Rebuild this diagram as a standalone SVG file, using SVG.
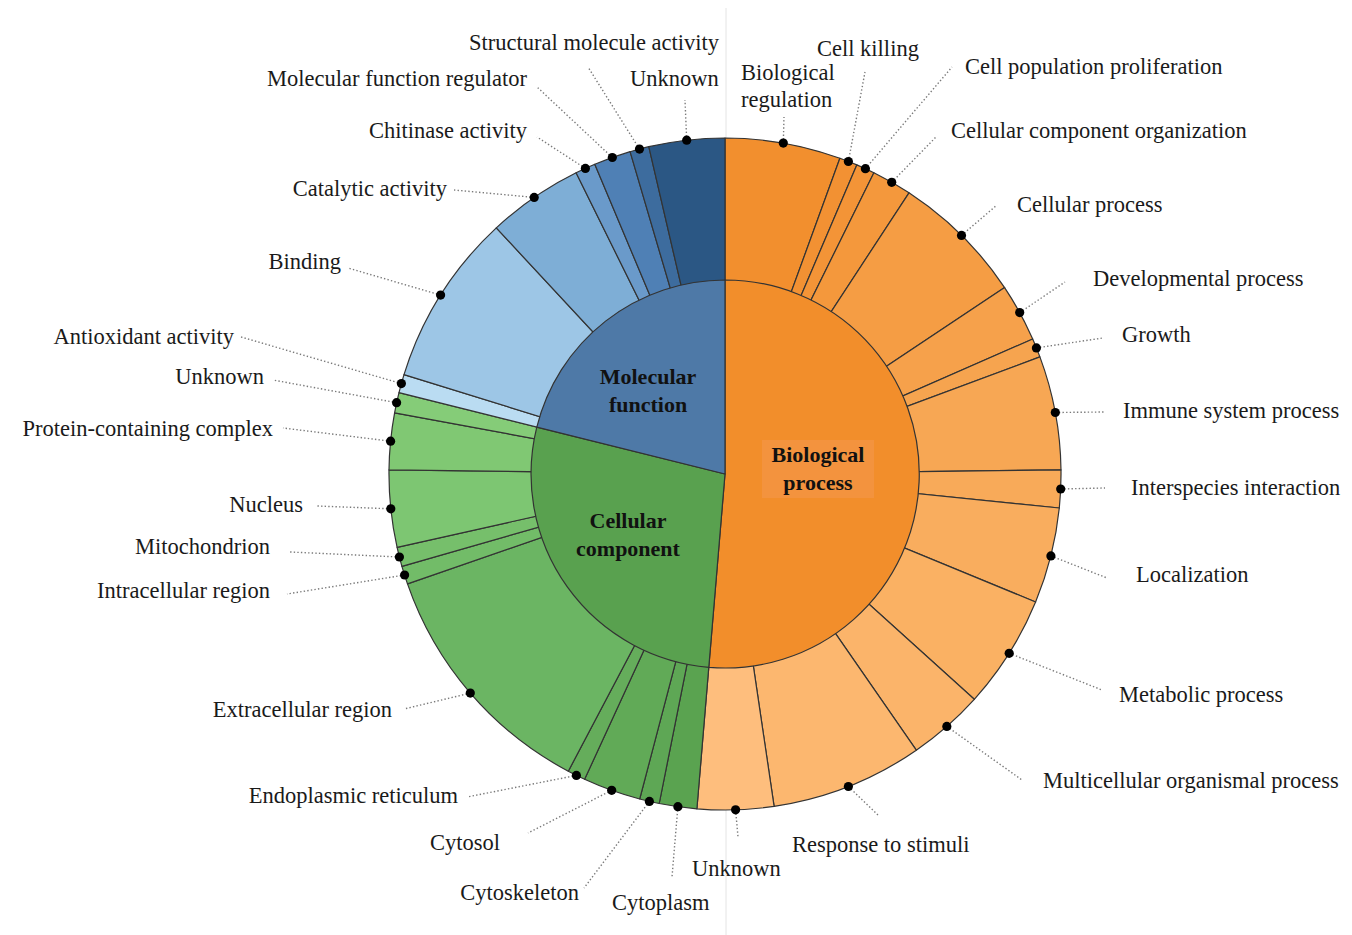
<svg xmlns="http://www.w3.org/2000/svg" width="1352" height="935" viewBox="0 0 1352 935">
<style>
.seg{stroke:#333;stroke-width:1.2;stroke-linejoin:round}
.lbl{font-family:"Liberation Serif","DejaVu Serif",serif;font-size:22.5px;fill:#1a1a1a}
.end{text-anchor:end}
.mid{text-anchor:middle}
.cat{font-family:"Liberation Serif","DejaVu Serif",serif;font-size:22px;font-weight:bold;fill:#111;text-anchor:middle}
.lead{stroke:#7a7a7a;stroke-width:1.4;stroke-dasharray:1.4 2.2;fill:none}
.dot{fill:#000}
</style>
<rect width="1352" height="935" fill="#fff"/>
<line x1="726" y1="8" x2="726" y2="935" stroke="#e4e4e4" stroke-width="1"/>

<!-- Biological process outer segments -->
<g id="bp-biological-regulation"><path class="seg" fill="#F28F2E" d="M725 474 L725 138 A336 336 0 0 1 839.9 158.3 Z"/><text class="lbl" x="741" y="80">Biological</text><text class="lbl" x="741" y="107">regulation</text></g>
<g id="bp-cell-killing"><path class="seg" fill="#F29133" d="M725 474 L839.9 158.3 A336 336 0 0 1 856.8 164.9 Z"/><text class="lbl" x="817" y="56">Cell killing</text></g>
<g id="bp-cell-population-proliferation"><path class="seg" fill="#F39437" d="M725 474 L856.8 164.9 A336 336 0 0 1 873.9 172.8 Z"/><text class="lbl" x="965" y="74">Cell population proliferation</text></g>
<g id="bp-cellular-component-organization"><path class="seg" fill="#F4983C" d="M725 474 L873.9 172.8 A336 336 0 0 1 909.0 192.8 Z"/><text class="lbl" x="951" y="138">Cellular component organization</text></g>
<g id="bp-cellular-process"><path class="seg" fill="#F59D44" d="M725 474 L909.0 192.8 A336 336 0 0 1 1004.6 287.6 Z"/><text class="lbl" x="1017" y="212">Cellular process</text></g>
<g id="bp-developmental-process"><path class="seg" fill="#F6A14B" d="M725 474 L1004.6 287.6 A336 336 0 0 1 1032.7 339.0 Z"/><text class="lbl" x="1093" y="286">Developmental process</text></g>
<g id="bp-growth"><path class="seg" fill="#F6A44F" d="M725 474 L1032.7 339.0 A336 336 0 0 1 1039.9 356.9 Z"/><text class="lbl" x="1122" y="342">Growth</text></g>
<g id="bp-immune-system-process"><path class="seg" fill="#F7A754" d="M725 474 L1039.9 356.9 A336 336 0 0 1 1061.0 469.9 Z"/><text class="lbl" x="1123" y="418">Immune system process</text></g>
<g id="bp-interspecies-interaction"><path class="seg" fill="#F8AA59" d="M725 474 L1061.0 469.9 A336 336 0 0 1 1059.3 508.0 Z"/><text class="lbl" x="1131" y="495">Interspecies interaction</text></g>
<g id="bp-localization"><path class="seg" fill="#F9AD5E" d="M725 474 L1059.3 508.0 A336 336 0 0 1 1035.6 602.0 Z"/><text class="lbl" x="1136" y="582">Localization</text></g>
<g id="bp-metabolic-process"><path class="seg" fill="#FAB163" d="M725 474 L1035.6 602.0 A336 336 0 0 1 974.3 699.3 Z"/><text class="lbl" x="1119" y="702">Metabolic process</text></g>
<g id="bp-multicellular-organismal-process"><path class="seg" fill="#FBB46A" d="M725 474 L974.3 699.3 A336 336 0 0 1 916.3 750.2 Z"/><text class="lbl" x="1043" y="788">Multicellular organismal process</text></g>
<g id="bp-response-to-stimuli"><path class="seg" fill="#FCB76F" d="M725 474 L916.3 750.2 A336 336 0 0 1 774.1 806.4 Z"/><text class="lbl" x="792" y="852">Response to stimuli</text></g>
<g id="bp-unknown"><path class="seg" fill="#FEBE7D" d="M725 474 L774.1 806.4 A336 336 0 0 1 696.9 808.8 Z"/><text class="lbl" x="692" y="876">Unknown</text></g>

<!-- Cellular component outer segments -->
<g id="cc-cytoplasm"><path class="seg" fill="#5AA350" d="M725 474 L696.9 808.8 A336 336 0 0 1 659.2 803.5 Z"/><text class="lbl" x="612" y="910">Cytoplasm</text></g>
<g id="cc-cytoskeleton"><path class="seg" fill="#5EA755" d="M725 474 L659.2 803.5 A336 336 0 0 1 639.7 799.0 Z"/><text class="lbl end" x="579" y="900">Cytoskeleton</text></g>
<g id="cc-cytosol"><path class="seg" fill="#61AA57" d="M725 474 L639.7 799.0 A336 336 0 0 1 584.6 779.3 Z"/><text class="lbl end" x="500" y="850">Cytosol</text></g>
<g id="cc-endoplasmic-reticulum"><path class="seg" fill="#65AD5B" d="M725 474 L584.6 779.3 A336 336 0 0 1 568.3 771.2 Z"/><text class="lbl end" x="458" y="803">Endoplasmic reticulum</text></g>
<g id="cc-extracellular-region"><path class="seg" fill="#6BB563" d="M725 474 L568.3 771.2 A336 336 0 0 1 407.5 583.9 Z"/><text class="lbl end" x="392" y="717">Extracellular region</text></g>
<g id="cc-intracellular-region"><path class="seg" fill="#72BC68" d="M725 474 L407.5 583.9 A336 336 0 0 1 401.9 566.3 Z"/><text class="lbl end" x="270" y="598">Intracellular region</text></g>
<g id="cc-mitochondrion"><path class="seg" fill="#76BF6B" d="M725 474 L401.9 566.3 A336 336 0 0 1 397.1 547.3 Z"/><text class="lbl end" x="270" y="554">Mitochondrion</text></g>
<g id="cc-nucleus"><path class="seg" fill="#7DC672" d="M725 474 L397.1 547.3 A336 336 0 0 1 389.0 469.9 Z"/><text class="lbl end" x="303" y="512">Nucleus</text></g>
<g id="cc-protein-containing-complex"><path class="seg" fill="#80C873" d="M725 474 L389.0 469.9 A336 336 0 0 1 394.6 412.8 Z"/><text class="lbl end" x="273" y="436">Protein-containing complex</text></g>
<g id="cc-unknown"><path class="seg" fill="#85CC78" d="M725 474 L394.6 412.8 A336 336 0 0 1 399.0 392.7 Z"/><text class="lbl end" x="264" y="384">Unknown</text></g>

<!-- Molecular function outer segments -->
<g id="mf-antioxidant-activity"><path class="seg" fill="#BADCF2" d="M725 474 L399.0 392.7 A336 336 0 0 1 404.0 374.6 Z"/><text class="lbl end" x="234" y="344">Antioxidant activity</text></g>
<g id="mf-binding"><path class="seg" fill="#9DC6E6" d="M725 474 L404.0 374.6 A336 336 0 0 1 496.3 227.9 Z"/><text class="lbl end" x="341" y="269">Binding</text></g>
<g id="mf-catalytic-activity"><path class="seg" fill="#7EAED6" d="M725 474 L496.3 227.9 A336 336 0 0 1 576.1 172.8 Z"/><text class="lbl end" x="447" y="196">Catalytic activity</text></g>
<g id="mf-chitinase-activity"><path class="seg" fill="#6A9ACA" d="M725 474 L576.1 172.8 A336 336 0 0 1 594.8 164.3 Z"/><text class="lbl end" x="527" y="138">Chitinase activity</text></g>
<g id="mf-molecular-function-regulator"><path class="seg" fill="#4F80B5" d="M725 474 L594.8 164.3 A336 336 0 0 1 630.1 151.7 Z"/><text class="lbl end" x="527" y="86">Molecular function regulator</text></g>
<g id="mf-structural-molecule-activity"><path class="seg" fill="#3D6C9E" d="M725 474 L630.1 151.7 A336 336 0 0 1 648.8 146.7 Z"/><text class="lbl end" x="719" y="50">Structural molecule activity</text></g>
<g id="mf-unknown"><path class="seg" fill="#2B5784" d="M725 474 L648.8 146.7 A336 336 0 0 1 725 138 Z"/><text class="lbl" x="630" y="86">Unknown</text></g>

<!-- Inner categories -->
<g id="biological-process"><path class="seg" fill="#F28E2B" d="M725 474 L725 280 A194 194 0 1 1 708.8 667.3 Z"/><rect x="762" y="440" width="112" height="58" fill="#F3933E"/><text class="cat" x="818" y="462">Biological</text><text class="cat" x="818" y="490">process</text></g>
<g id="cellular-component"><path class="seg" fill="#59A14F" d="M725 474 L708.8 667.3 A194 194 0 0 1 536.8 427.1 Z"/><text class="cat" x="628" y="528">Cellular</text><text class="cat" x="628" y="556">component</text></g>
<g id="molecular-function"><path class="seg" fill="#4E79A7" d="M725 474 L536.8 427.1 A194 194 0 0 1 725 280 Z"/><text class="cat" x="648" y="384">Molecular</text><text class="cat" x="648" y="412">function</text></g>

<!-- Leader connectors -->
<g id="connectors">
<path class="lead" d="M686.7 140.2L685 100M639.5 149.1L588 67M612.3 157.5L537 87M585.4 168.4L537 137M534.2 197.4L454 190M440.6 295.1L348 268M401.4 383.6L241 337"/>
<path class="lead" d="M396.6 402.7L273 380M390.6 441.2L283 428M390.8 508.8L317 506M399.4 557L290 552M404.6 575L287 594M470.3 693.1L404 709M576.4 775.4L467 797M611.7 790.3L528 833M649.4 801.4L584 888M677.9 806.7L672 877"/>
<path class="lead" d="M783.3 143.1L784 117M848.4 161.5L865 72M865.4 168.7L952 67M891.7 182.3L936 137M961.5 235.4L997 205M1019.7 312.6L1065 282M1036.4 347.9L1103 338M1055.3 412.5L1105 412M1060.7 489L1105 488M1050.9 555.9L1107 578M1009.2 653.3L1102 690M946.8 726.4L1022 780M848.4 786.5L878 815M735.6 809.8L738 837"/>
<g class="dot">
<circle cx="686.7" cy="140.2" r="4.6"/><circle cx="639.5" cy="149.1" r="4.6"/><circle cx="612.3" cy="157.5" r="4.6"/><circle cx="585.4" cy="168.4" r="4.6"/><circle cx="534.2" cy="197.4" r="4.6"/><circle cx="440.6" cy="295.1" r="4.6"/><circle cx="401.4" cy="383.6" r="4.6"/>
<circle cx="396.6" cy="402.7" r="4.6"/><circle cx="390.6" cy="441.2" r="4.6"/><circle cx="390.8" cy="508.8" r="4.6"/><circle cx="399.4" cy="557" r="4.6"/><circle cx="404.6" cy="575" r="4.6"/><circle cx="470.3" cy="693.1" r="4.6"/><circle cx="576.4" cy="775.4" r="4.6"/><circle cx="611.7" cy="790.3" r="4.6"/><circle cx="649.4" cy="801.4" r="4.6"/><circle cx="677.9" cy="806.7" r="4.6"/>
<circle cx="783.3" cy="143.1" r="4.6"/><circle cx="848.4" cy="161.5" r="4.6"/><circle cx="865.4" cy="168.7" r="4.6"/><circle cx="891.7" cy="182.3" r="4.6"/><circle cx="961.5" cy="235.4" r="4.6"/><circle cx="1019.7" cy="312.6" r="4.6"/><circle cx="1036.4" cy="347.9" r="4.6"/><circle cx="1055.3" cy="412.5" r="4.6"/><circle cx="1060.7" cy="489" r="4.6"/><circle cx="1050.9" cy="555.9" r="4.6"/><circle cx="1009.2" cy="653.3" r="4.6"/><circle cx="946.8" cy="726.4" r="4.6"/><circle cx="848.4" cy="786.5" r="4.6"/><circle cx="735.6" cy="809.8" r="4.6"/>
</g>
</g>
</svg>
